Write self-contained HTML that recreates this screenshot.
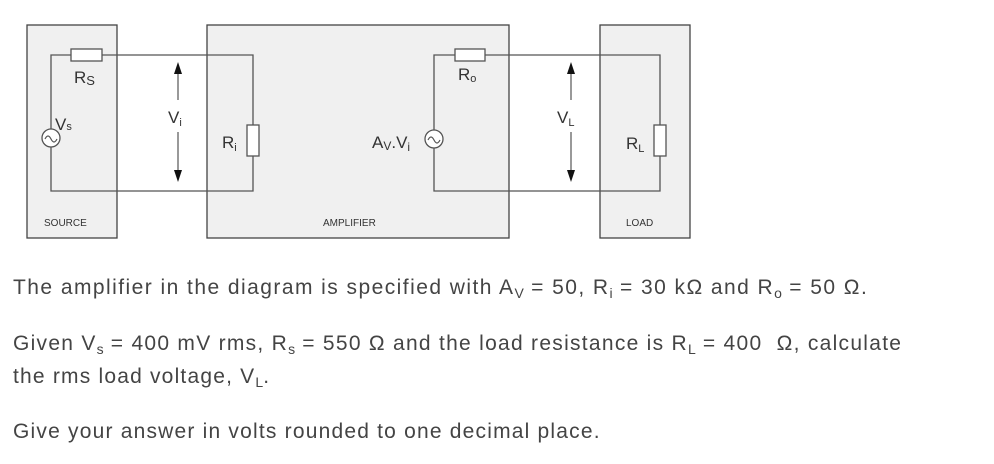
<!DOCTYPE html>
<html><head><meta charset="utf-8"><style>
body{margin:0;width:994px;height:464px;background:#fff;overflow:hidden;position:relative;font-family:"Liberation Sans",sans-serif}
.t{position:absolute;left:13px;font-size:21px;letter-spacing:1.2px;color:#444;white-space:nowrap;line-height:1}
sub{font-size:14px;vertical-align:-4px;line-height:0;letter-spacing:0}
</style></head><body>
<svg width="994" height="250" style="position:absolute;left:0;top:0" font-family="Liberation Sans, sans-serif">
<g stroke="#444" stroke-width="1.3" fill="#f0f0f0">
<rect x="27" y="25" width="90" height="213"/>
<rect x="207" y="25" width="302" height="213"/>
<rect x="600" y="25" width="90" height="213"/>
</g>
<g stroke="#555" stroke-width="1.3" fill="none">
<polyline points="71,55 51,55 51,191 253,191 253,156"/>
<polyline points="102,55 253,55 253,125"/>
<polyline points="455,55 434,55 434,191 660,191 660,156"/>
<polyline points="485,55 660,55 660,125"/>
</g>
<g stroke="#555" stroke-width="1.3" fill="#fff">
<rect x="71" y="49" width="31" height="12"/>
<rect x="455" y="49" width="30" height="12"/>
<rect x="247" y="125" width="12" height="31"/>
<rect x="654" y="125" width="12" height="31"/>
<circle cx="51" cy="138" r="9"/>
<circle cx="434" cy="139" r="9"/>
</g>
<g stroke="#555" stroke-width="1.2" fill="none">
<path d="M45,139 q3,-6 6,0 q3,6 6,0"/>
<path d="M428,140 q3,-6 6,0 q3,6 6,0"/>
<line x1="178" y1="72" x2="178" y2="100"/><line x1="178" y1="132" x2="178" y2="172"/>
<line x1="571" y1="72" x2="571" y2="100"/><line x1="571" y1="132" x2="571" y2="172"/>
</g>
<g fill="#111">
<polygon points="178,62 174,74 182,74"/><polygon points="178,182 174,170 182,170"/>
<polygon points="571,62 567,74 575,74"/><polygon points="571,182 567,170 575,170"/>
</g>
<g fill="#333" font-size="17">
<text x="74" y="83">R<tspan font-size="13" dy="2">S</tspan></text>
<text x="55" y="130">V<tspan font-size="11" dy="0">s</tspan></text>
<text x="168" y="123">V<tspan font-size="11" dy="3">i</tspan></text>
<text x="222" y="148">R<tspan font-size="11" dy="3">i</tspan></text>
<text x="458" y="80">R<tspan font-size="11" dy="2">o</tspan></text>
<text x="372" y="148">A<tspan font-size="12" dy="2">V</tspan><tspan dy="-2">.V</tspan><tspan font-size="12" dy="3">i</tspan></text>
<text x="557" y="123">V<tspan font-size="11" dy="3">L</tspan></text>
<text x="626" y="149">R<tspan font-size="11" dy="3">L</tspan></text>
</g>
<g fill="#333" font-size="10">
<text x="44" y="226">SOURCE</text>
<text x="323" y="226">AMPLIFIER</text>
<text x="626" y="226">LOAD</text>
</g>
</svg>
<div class="t" style="top:277px;letter-spacing:1.45px">The amplifier in the diagram is specified with A<sub>V</sub> = 50, R<sub>i</sub> = 30 kΩ and R<sub>o</sub> = 50 Ω.</div>
<div class="t" style="top:333px;letter-spacing:1.28px">Given V<sub>s</sub> = 400 mV rms, R<sub>s</sub> = 550 Ω and the load resistance is R<sub>L</sub> = 400 &nbsp;Ω, calculate</div>
<div class="t" style="top:366px">the rms load voltage, V<sub>L</sub>.</div>
<div class="t" style="top:421px">Give your answer in volts rounded to one decimal place.</div>
</body></html>
